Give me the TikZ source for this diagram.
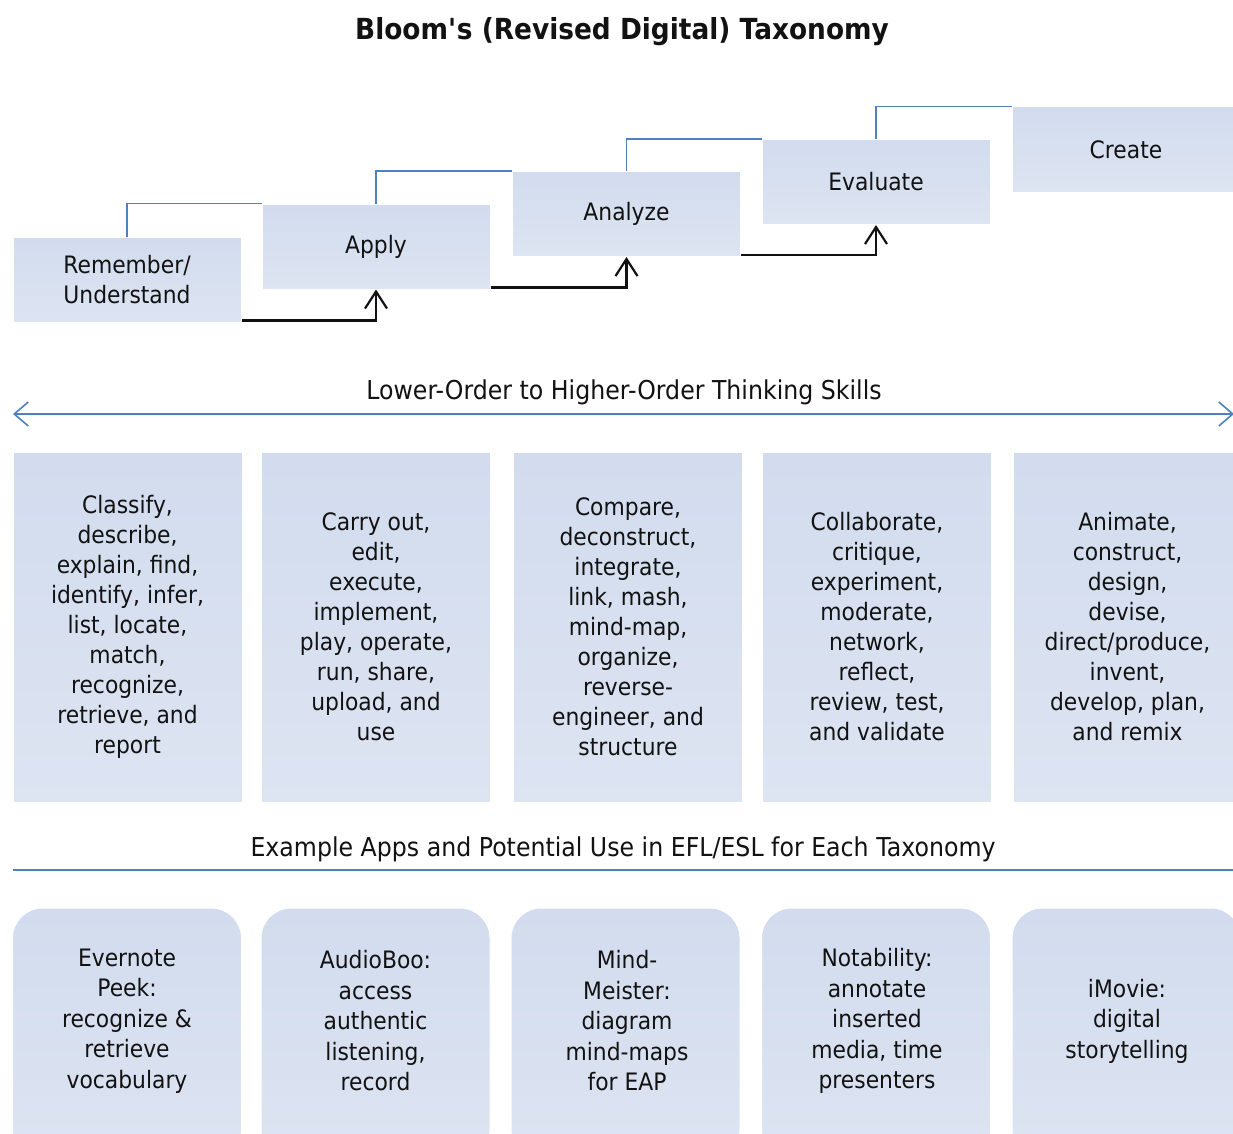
\documentclass[tikz,border=0pt]{standalone}
\usepackage{fontspec}
\setmainfont[FakeStretch=0.91]{DejaVu Sans}
\usetikzlibrary{arrows.meta}

\definecolor{boxtop}{RGB}{210,220,238}
\definecolor{boxbot}{RGB}{221,228,242}
\definecolor{linkblue}{RGB}{79,129,189}
\definecolor{ink}{RGB}{18,18,18}

\tikzset{
  levelbox/.style={rectangle, minimum width=228pt, minimum height=85pt,
    top color=boxtop, bottom color=boxbot, draw=white, line width=1pt,
    text=ink, align=center, font=\fontsize{24}{30}\selectfont},
  verbbox/.style={levelbox, minimum width=229pt, minimum height=350pt},
  appbox/.style={levelbox, minimum width=229pt, minimum height=252pt,
    rounded corners=30pt},
  apptext/.style={text=ink, align=center, font=\fontsize{24}{30.5}\selectfont},
  heading/.style={text=ink, font=\fontsize{26}{30}\selectfont},
  riser/.style={draw=linkblue, line width=1.6pt},
  climb/.style={draw=ink, line width=2.2pt,
    -{Straight Barb[length=17pt,width=22pt,line width=2.2pt]}},
  axisbarb/.tip={Straight Barb[length=14pt,width=24pt,line width=1.6pt]}
}

\begin{document}
\begin{tikzpicture}[x=1pt,y=-1pt]
      \fill[white] (0,0) rectangle (1233,1134);
      \useasboundingbox (0,0) rectangle (1233,1134);
      % Title
      \node[text=ink, font=\fontsize{29}{34}\selectfont\bfseries] (title) at (622,32)
        {Bloom\textquotesingle s (Revised Digital) Taxonomy};
      % Drawing the staircase of levels
      \node[levelbox] (rem) at (127,279.5) {Remember/\\Understand};
      \node[levelbox] (app) at (376,246.5) {Apply};
      \node[levelbox] (ana) at (626.5,214) {Analyze};
      \node[levelbox] (eva) at (876,182) {Evaluate};
      \node[levelbox] (cre) at (1126,149.5) {Create};
      % Blue risers from each level to the next
      \draw[riser] (rem.north) |- (app.north west);
      \draw[riser] (app.north) |- (ana.north west);
      \draw[riser] (ana.north) |- (eva.north west);
      \draw[riser] (eva.north) |- (cre.north west);
      % Black arrows climbing up the steps
      \draw[climb] ([yshift=2pt]rem.south east) -| (app.south);
      \draw[climb] ([yshift=2pt]app.south east) -| (ana.south);
      \draw[climb] ([yshift=2pt]ana.south east) -| (eva.south);
      % Thinking skills axis
      \node[heading] (axis) at (624,392) {Lower-Order to Higher-Order Thinking Skills};
      \coordinate (lo) at (13,414);
      \coordinate (hi) at (1234,414);
      \draw[linkblue, line width=1.6pt, {axisbarb}-{axisbarb}] (lo) -- (hi);
      % Verbs for each level
      \node[verbbox] (v1) at (127.5,627) {Classify,\\describe,\\explain, find,\\identify, infer,\\list, locate,\\match,\\recognize,\\retrieve, and\\report};
      \node[verbbox] (v2) at (376,627) {Carry out,\\edit,\\execute,\\implement,\\play, operate,\\run, share,\\upload, and\\use};
      \node[verbbox] (v3) at (628,627) {Compare,\\deconstruct,\\integrate,\\link, mash,\\mind-map,\\organize,\\reverse-\\engineer, and\\structure};
      \node[verbbox] (v4) at (877,627) {Collaborate,\\critique,\\experiment,\\moderate,\\network,\\reflect,\\review, test,\\and validate};
      \node[verbbox] (v5) at (1127.5,627) {Animate,\\construct,\\design,\\devise,\\direct/produce,\\invent,\\develop, plan,\\and remix};
      % Apps heading and rule
      \node[heading] (apps) at (623,849) {Example Apps and Potential Use in EFL/ESL for Each Taxonomy};
      \coordinate (rl) at (13,870);
      \coordinate (rr) at (1233,870);
      \draw[riser] (rl) -- (rr);
      % App boxes
      \node[appbox] (a1) at (127,1034) {};
      \node[appbox] (a2) at (375.5,1034) {};
      \node[appbox] (a3) at (625.5,1034) {};
      \node[appbox] (a4) at (876,1034) {};
      \node[appbox] (a5) at (1126.5,1034) {};
      \node[apptext] (t1) at (127,1021) {Evernote\\Peek:\\recognize \&\\retrieve\\vocabulary};
      \node[apptext] (t2) at (375.5,1021) {AudioBoo:\\access\\authentic\\listening,\\record};
      \node[apptext] (t3) at (627,1021) {Mind-\\Meister:\\diagram\\mind-maps\\for EAP};
      \node[apptext] (t4) at (877,1021) {Notability:\\annotate\\inserted\\media, time\\presenters};
      \node[apptext] (t5) at (1127,1021) {iMovie:\\digital\\storytelling};
\end{tikzpicture}
\end{document}
